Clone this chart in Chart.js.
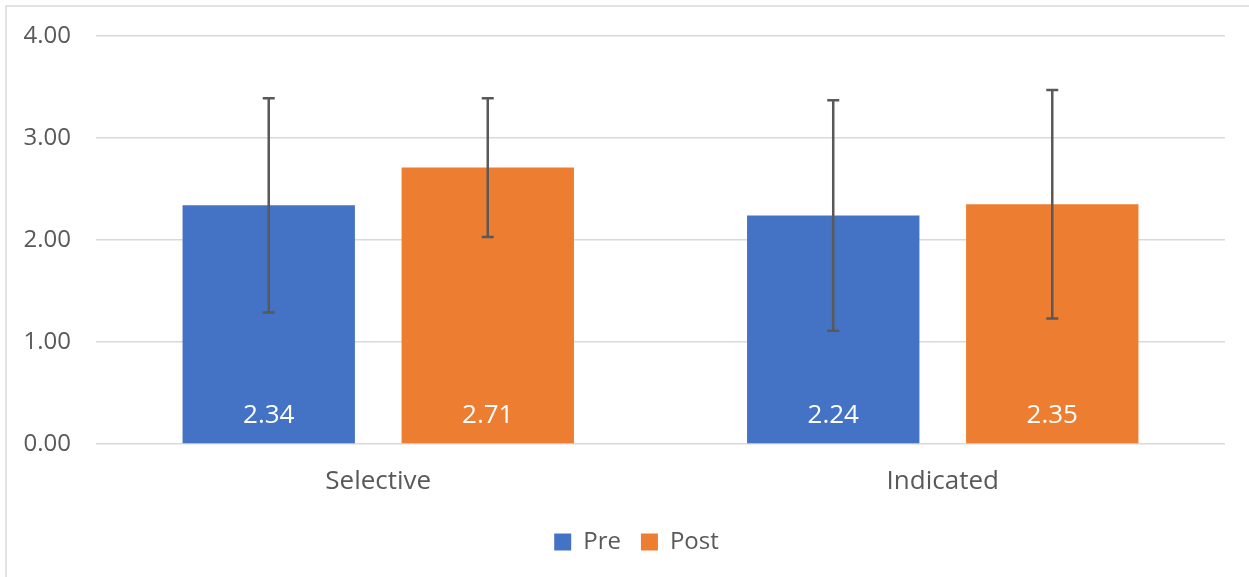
<!DOCTYPE html>
<html>
<head>
<meta charset="utf-8">
<script src="https://cdn.jsdelivr.net/npm/chart.js@4.4.1/dist/chart.umd.min.js"></script>
<style>
html,body{margin:0;padding:0;background:#fff;}
#wrap{position:relative;width:1249px;height:577px;}
</style>
</head>
<body>
<div id="wrap"><canvas id="c" width="1249" height="577"></canvas></div>
<script>
const categories = ["Selective", "Indicated"];
const seriesNames = ["Pre", "Post"];
const preValues = [2.34, 2.24];
const postValues = [2.71, 2.35];
const preErrors = [1.05, 1.13];
const postErrors = [0.68, 1.12];
const yTicks = [0, 1, 2, 3, 4];

const FONT = '"Open Sans", "Noto Sans", sans-serif';
const TEXT = '#595959';

const errorBars = {
  id: 'errorBars',
  afterDatasetsDraw(chart) {
    const ctx = chart.ctx;
    const y = chart.scales.y;
    const errs = [preErrors, postErrors];
    ctx.save();
    ctx.strokeStyle = '#595959';
    ctx.lineWidth = 2.5;
    chart.data.datasets.forEach((ds, i) => {
      chart.getDatasetMeta(i).data.forEach((bar, j) => {
        const v = ds.data[j], e = errs[i][j];
        const top = y.getPixelForValue(v + e), bot = y.getPixelForValue(v - e);
        ctx.beginPath();
        ctx.moveTo(bar.x, top); ctx.lineTo(bar.x, bot);
        ctx.moveTo(bar.x - 6, top); ctx.lineTo(bar.x + 6, top);
        ctx.moveTo(bar.x - 6, bot); ctx.lineTo(bar.x + 6, bot);
        ctx.stroke();
      });
    });
    ctx.restore();
  }
};

const dataLabels = {
  id: 'dataLabels',
  afterDatasetsDraw(chart) {
    const ctx = chart.ctx;
    const base = chart.scales.y.getPixelForValue(0);
    ctx.save();
    ctx.fillStyle = '#ffffff';
    ctx.font = '26px ' + FONT;
    ctx.textAlign = 'center';
    ctx.textBaseline = 'middle';
    chart.data.datasets.forEach((ds, i) => {
      chart.getDatasetMeta(i).data.forEach((bar, j) => {
        ctx.fillText(ds.data[j].toFixed(2), bar.x, base - 28);
      });
    });
    ctx.restore();
  }
};

const frame = {
  id: 'frame',
  beforeDraw(chart) {
    const ctx = chart.ctx;
    ctx.save();
    ctx.fillStyle = '#fff';
    ctx.fillRect(0, 0, chart.width, chart.height);
    ctx.strokeStyle = '#d9d9d9';
    ctx.lineWidth = 1.5;
    ctx.beginPath();
    ctx.moveTo(6, chart.height + 5); ctx.lineTo(6, 6); ctx.lineTo(chart.width + 5, 6);
    ctx.stroke();
    ctx.restore();
  }
};

new Chart(document.getElementById('c'), {
  type: 'bar',
  data: {
    labels: categories,
    datasets: [
      { label: seriesNames[0], data: preValues, backgroundColor: '#4472C4' },
      { label: seriesNames[1], data: postValues, backgroundColor: '#ED7D31' }
    ]
  },
  options: {
    responsive: false,
    animation: false,
    devicePixelRatio: 1,
    layout: { padding: { top: 36, right: 0, left: 24, bottom: 13 } },
    categoryPercentage: 0.776,
    barPercentage: 0.787,
    scales: {
      x: {
        grid: { display: false, drawTicks: false },
        border: { display: false },
        afterFit(scale) { scale.height = 66; },
        ticks: { color: TEXT, font: { family: FONT, size: 26 }, padding: 22 }
      },
      y: {
        min: 0, max: 4,
        afterBuildTicks(scale) { scale.ticks = yTicks.map(v => ({ value: v })); },
        afterFit(scale) { scale.width = 72; scale.paddingTop = 0; scale.paddingBottom = 0; },
        grid: { color: '#d9d9d9', lineWidth: 1.5, drawTicks: false },
        border: { display: false },
        ticks: {
          color: TEXT, font: { family: FONT, size: 24 }, padding: 25,
          callback: v => Number(v).toFixed(2)
        }
      },
      yRight: {
        position: 'right',
        display: true,
        afterFit(scale) { scale.width = 24; },
        grid: { display: false, drawTicks: false },
        border: { display: false },
        ticks: { display: false }
      }
    },
    plugins: {
      legend: {
        position: 'bottom',
        labels: {
          color: TEXT, font: { family: FONT, size: 24 },
          boxWidth: 17, boxHeight: 17, padding: 20
        }
      },
      tooltip: { enabled: false }
    }
  },
  plugins: [frame, errorBars, dataLabels]
});
</script>
</body>
</html>
